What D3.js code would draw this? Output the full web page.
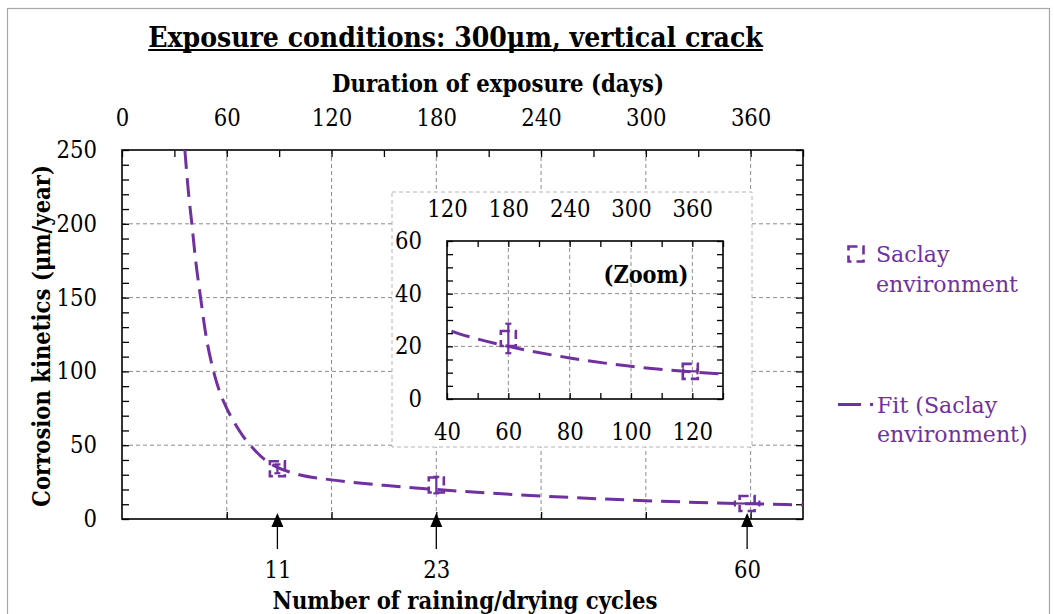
<!DOCTYPE html>
<html>
<head>
<meta charset="utf-8">
<script src="https://cdn.jsdelivr.net/npm/d3@7"></script>
<style>
  html, body { margin: 0; padding: 0; background: #ffffff; }
  svg { display: block; }
</style>
</head>
<body>
<script>
// ---------------- DATA ----------------
const titleText = "Exposure conditions: 300μm, vertical crack";
const topAxisTitle = "Duration of exposure (days)";
const bottomAxisTitle = "Number of raining/drying cycles";
const yAxisTitle = "Corrosion kinetics (μm/year)";

const topTickLabels = [0, 60, 120, 180, 240, 300, 360];     // days
const yTickLabels = [0, 50, 100, 150, 200, 250];             // µm/year
const cycleLabels = [11, 23, 60];                            // raining/drying cycles
const cycleDays = [89, 180, 358];                            // day of each cycle label

// measured points (Saclay environment)
const pointDays = [89, 180, 358];
const pointValues = [34, 23, 10.5];
const pointYErr = [3, 5.6, 0];
const pointXErr = [0, 0, 7];

// fit curve (Saclay environment)
const fitDays = [36, 38, 40, 42, 45, 48, 52, 56, 60, 65, 70, 75, 82, 89, 100, 120, 150, 180, 240, 300, 360, 390];
const fitValues = [250, 222, 200, 177, 150, 125, 102, 86, 75, 64, 55, 48, 40, 35, 30.5, 26.5, 22.8, 20, 15.6, 12.4, 10.3, 9.5];

// inset (zoom)
const insetTopTicks = [120, 180, 240, 300, 360];
const insetBottomTicks = [40, 60, 80, 100, 120];
const insetYTicks = [0, 20, 40, 60];
const insetLabel = "(Zoom)";

const legendLabels = [["Saclay", "environment"], ["Fit (Saclay", "environment)"]];

// ---------------- STYLE ----------------
const purple = "#7030a0";
const gridColor = "#8c8c8c";
const font = "'DejaVu Serif', serif";
const condFont = "'DejaVu Serif Condensed', 'DejaVu Serif', serif";

const W = 1054, H = 614;
const svg = d3.select("body").append("svg").attr("width", W).attr("height", H)
  .style("font-family", font);

// chart border
svg.append("rect").attr("x", 7.5).attr("y", 8.5).attr("width", 1042).attr("height", 700)
  .attr("fill", "none").attr("stroke", "#a6a6a6").attr("stroke-width", 1.2);

// ---------------- SCALES ----------------
const x = d3.scaleLinear().domain([0, 390]).range([122, 803]);
const y = d3.scaleLinear().domain([0, 250]).range([519, 150]);
const [px0, px1] = x.range();
const [py0, py1] = y.range();

const defs = svg.append("defs");
defs.append("clipPath").attr("id", "clipMain").append("rect")
  .attr("x", px0).attr("y", py1).attr("width", px1 - px0).attr("height", py0 - py1);

// ---------------- GRID ----------------
const grid = svg.append("g").attr("stroke", gridColor).attr("stroke-width", 1).attr("stroke-dasharray", "4,3");
grid.selectAll(".vg").data(topTickLabels.filter(d => d > 0)).enter().append("line")
  .attr("x1", d => x(d)).attr("x2", d => x(d)).attr("y1", py1).attr("y2", py0);
grid.selectAll(".hg").data(yTickLabels.filter(d => d > 0 && d < 250)).enter().append("line")
  .attr("x1", px0).attr("x2", px1).attr("y1", d => y(d)).attr("y2", d => y(d));

// ---------------- AXES (main) ----------------
function fitWidth(sel, w) {
  const L = sel.node().getComputedTextLength();
  const fs = parseFloat(sel.style("font-size"));
  sel.style("font-size", (fs * w / L) + "px");
}
function styleAxis(g) {
  g.select(".domain").remove();
  g.selectAll(".tick line").attr("stroke", "#000").attr("stroke-width", 1.3);
  g.selectAll("text").attr("fill", "#000").style("font-family", condFont).style("font-stretch", "condensed")
    .style("font-size", "22px");
}
// probe digit width so tick labels match the reference width (3 digits ≈ 40px)
function tickLabelSize() {
  const p = svg.append("text").style("font-family", condFont).style("font-stretch", "condensed")
    .style("font-size", "22px").text("250");
  fitWidth(p, 40.5);
  const s = p.style("font-size");
  p.remove();
  return s;
}
const tickFS = tickLabelSize();
function styleAxisL(g) { styleAxis(g); g.selectAll("text").style("font-size", tickFS); }

// inward minor ticks
svg.append("g").attr("transform", `translate(0,${py1})`)
  .call(d3.axisTop(x).tickValues(d3.range(0, 391, 30)).tickSize(-7).tickFormat("")).call(styleAxis);
svg.append("g").attr("transform", `translate(0,${py0})`)
  .call(d3.axisBottom(x).tickValues(d3.range(60, 391, 60)).tickSize(-7).tickFormat("")).call(styleAxis);
svg.append("g").attr("transform", `translate(${px0},0)`)
  .call(d3.axisLeft(y).tickValues(d3.range(0, 251, 10)).tickSize(-7).tickFormat("")).call(styleAxis);
svg.append("g").attr("transform", `translate(${px1},0)`)
  .call(d3.axisRight(y).tickValues(d3.range(0, 251, 10)).tickSize(-7).tickFormat("")).call(styleAxis);

// labels
svg.append("g").attr("transform", `translate(0,${py1})`)
  .call(d3.axisTop(x).tickValues(topTickLabels).tickSize(0).tickPadding(24).tickFormat(d3.format("d"))).call(styleAxisL);
svg.append("g").attr("transform", `translate(${px0},0)`)
  .call(d3.axisLeft(y).tickValues(yTickLabels).tickSize(0).tickPadding(25).tickFormat(d3.format("d"))).call(styleAxisL);
svg.append("g").attr("transform", `translate(0,${py0})`)
  .call(d3.axisBottom(x).tickValues(cycleDays).tickSize(0).tickPadding(42).tickFormat((d, i) => cycleLabels[i])).call(styleAxisL);

// frame
svg.append("rect").attr("x", px0).attr("y", py1).attr("width", px1 - px0).attr("height", py0 - py1)
  .attr("fill", "none").attr("stroke", "#000").attr("stroke-width", 1.6);

// cycle arrows
const arrows = svg.append("g");
cycleDays.forEach(d => {
  const cx = x(d);
  arrows.append("path").attr("d", `M${cx},${py0 - 6} L${cx - 6},${py0 + 8} L${cx + 6},${py0 + 8} Z`).attr("fill", "#000");
  arrows.append("line").attr("x1", cx).attr("x2", cx).attr("y1", py0 + 8).attr("y2", py0 + 30)
    .attr("stroke", "#000").attr("stroke-width", 1.3);
});

// ---------------- MARKERS ----------------
function drawMarker(g, cx, cy, s) {
  g.append("rect").attr("x", cx - s / 2).attr("y", cy - s / 2).attr("width", s).attr("height", s)
    .attr("fill", "none").attr("stroke", purple).attr("stroke-width", 2.6).attr("stroke-dasharray", "9,5");
}
function drawPoints(g, xs, ys, filterFn) {
  pointDays.forEach((d, i) => {
    if (filterFn && !filterFn(d)) return;
    const cx = xs(d), cy = ys(pointValues[i]);
    const eg = g.append("g").attr("stroke", purple).attr("stroke-width", 2.2);
    if (pointYErr[i] > 0) {
      const yt = ys(pointValues[i] + pointYErr[i]), yb = ys(pointValues[i] - pointYErr[i]);
      eg.append("line").attr("x1", cx).attr("x2", cx).attr("y1", yt).attr("y2", yb);
      eg.append("line").attr("x1", cx - 3).attr("x2", cx + 3).attr("y1", yt).attr("y2", yt);
      eg.append("line").attr("x1", cx - 3).attr("x2", cx + 3).attr("y1", yb).attr("y2", yb);
    }
    if (pointXErr[i] > 0) {
      const xl = xs(d - pointXErr[i]), xr = xs(d + pointXErr[i]);
      eg.append("line").attr("x1", xl).attr("x2", xr).attr("y1", cy).attr("y2", cy);
      eg.append("line").attr("x1", xl).attr("x2", xl).attr("y1", cy - 3).attr("y2", cy + 3);
      eg.append("line").attr("x1", xr).attr("x2", xr).attr("y1", cy - 3).attr("y2", cy + 3);
    }
    drawMarker(g, cx, cy, 15);
  });
}

const fitData = fitDays.map((d, i) => [d, fitValues[i]]);

const lineMain = d3.line().x(d => x(d[0])).y(d => y(d[1])).curve(d3.curveMonotoneX);
svg.append("path").datum(fitData).attr("d", lineMain).attr("clip-path", "url(#clipMain)")
  .attr("fill", "none").attr("stroke", purple).attr("stroke-width", 3).attr("stroke-dasharray", "19,9");
drawPoints(svg.append("g"), x, y);

// ---------------- INSET ----------------
const xi = d3.scaleLinear().domain([120, 390]).range([447, 723]);
const xiB = d3.scaleLinear().domain([40, 130]).range([447, 723]);
const yi = d3.scaleLinear().domain([0, 60]).range([399, 241]);
const [ix0, ix1] = xi.range();
const [iy0, iy1] = yi.range();

svg.append("rect").attr("x", 392).attr("y", 192).attr("width", 360).attr("height", 255)
  .attr("fill", "#fff").attr("stroke", "#b4b4b4").attr("stroke-width", 1).attr("stroke-dasharray", "4,3");

defs.append("clipPath").attr("id", "clipInset").append("rect")
  .attr("x", ix0).attr("y", iy1).attr("width", ix1 - ix0).attr("height", iy0 - iy1);

const ig = svg.append("g").attr("stroke", gridColor).attr("stroke-width", 1).attr("stroke-dasharray", "4,3");
ig.selectAll(".v").data(insetBottomTicks.filter(d => d > 40)).enter().append("line")
  .attr("x1", d => xiB(d)).attr("x2", d => xiB(d)).attr("y1", iy1).attr("y2", iy0);
ig.selectAll(".h").data(insetYTicks.filter(d => d > 0 && d < 60)).enter().append("line")
  .attr("x1", ix0).attr("x2", ix1).attr("y1", d => yi(d)).attr("y2", d => yi(d));

svg.append("g").attr("transform", `translate(0,${iy1})`)
  .call(d3.axisTop(xiB).tickValues(d3.range(40, 131, 10)).tickSize(-6).tickFormat("")).call(styleAxis);
svg.append("g").attr("transform", `translate(0,${iy0})`)
  .call(d3.axisBottom(xiB).tickValues(d3.range(40, 131, 10)).tickSize(-6).tickFormat("")).call(styleAxis);
svg.append("g").attr("transform", `translate(${ix0},0)`)
  .call(d3.axisLeft(yi).tickValues(d3.range(0, 61, 5)).tickSize(-6).tickFormat("")).call(styleAxis);
svg.append("g").attr("transform", `translate(${ix1},0)`)
  .call(d3.axisRight(yi).tickValues(d3.range(0, 61, 5)).tickSize(-6).tickFormat("")).call(styleAxis);

svg.append("g").attr("transform", `translate(0,${iy1})`)
  .call(d3.axisTop(xi).tickValues(insetTopTicks).tickSize(0).tickPadding(24).tickFormat(d3.format("d"))).call(styleAxisL);
svg.append("g").attr("transform", `translate(0,${iy0})`)
  .call(d3.axisBottom(xiB).tickValues(insetBottomTicks).tickSize(0).tickPadding(24).tickFormat(d3.format("d"))).call(styleAxisL);
svg.append("g").attr("transform", `translate(${ix0},0)`)
  .call(d3.axisLeft(yi).tickValues(insetYTicks).tickSize(0).tickPadding(25).tickFormat(d3.format("d"))).call(styleAxisL);

svg.append("rect").attr("x", ix0).attr("y", iy1).attr("width", ix1 - ix0).attr("height", iy0 - iy1)
  .attr("fill", "none").attr("stroke", "#000").attr("stroke-width", 1.6);

const lineInset = d3.line().x(d => xi(d[0])).y(d => yi(d[1])).curve(d3.curveMonotoneX);
svg.append("path").datum(fitData).attr("d", lineInset).attr("clip-path", "url(#clipInset)")
  .attr("fill", "none").attr("stroke", purple).attr("stroke-width", 3).attr("stroke-dasharray", "19,9");
drawPoints(svg.append("g"), xi, yi, d => d >= 120);

function boldText(xp, yp, size, txt, width, transform) {
  const s = svg.append("text").attr("text-anchor", "middle")
    .style("font-family", condFont).style("font-stretch", "condensed")
    .style("font-weight", "bold").style("font-size", size + "px").text(txt);
  if (transform) s.attr("transform", transform); else s.attr("x", xp).attr("y", yp);
  fitWidth(s, width);
  return s;
}

boldText(646, 283, 20, insetLabel, 85);

// ---------------- TITLES ----------------
const t = boldText(455.5, 47, 26, titleText, 615);
const tw = t.node().getComputedTextLength();
svg.append("line").attr("x1", 455.5 - tw / 2).attr("x2", 455.5 + tw / 2).attr("y1", 50).attr("y2", 50)
  .attr("stroke", "#000").attr("stroke-width", 2);

boldText(498, 92, 20, topAxisTitle, 332);
boldText(465, 609, 20, bottomAxisTitle, 385);
boldText(0, 0, 20, yAxisTitle, 342, "translate(50,336) rotate(-90)");

// ---------------- LEGEND ----------------
const lg = svg.append("g").style("fill", purple).style("font-size", "21px");
drawMarker(svg, 856, 254, 15);
lg.append("text").attr("x", 876).attr("y", 262).text(legendLabels[0][0]);
const e1 = lg.append("text").attr("x", 876).attr("y", 292).text(legendLabels[0][1]);
fitWidth(e1, 142);
lg.select("text").style("font-size", e1.style("font-size"));
svg.append("line").attr("x1", 838).attr("x2", 861).attr("y1", 404.5).attr("y2", 404.5)
  .attr("stroke", purple).attr("stroke-width", 3);
svg.append("line").attr("x1", 870).attr("x2", 873).attr("y1", 404.5).attr("y2", 404.5)
  .attr("stroke", purple).attr("stroke-width", 3);
lg.append("text").attr("x", 877).attr("y", 413).style("font-size", e1.style("font-size")).text(legendLabels[1][0]);
lg.append("text").attr("x", 877).attr("y", 442).style("font-size", e1.style("font-size")).text(legendLabels[1][1]);
</script>
</body>
</html>
